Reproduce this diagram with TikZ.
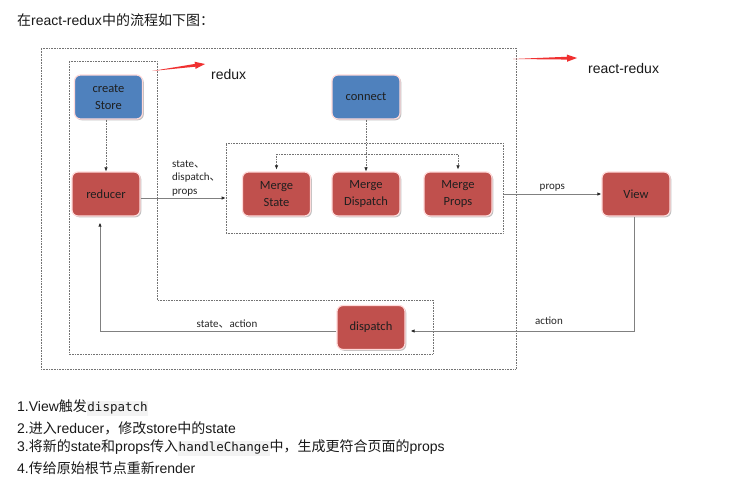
\documentclass[tikz,border=0pt]{standalone}
\usepackage{fontspec}
\setmainfont{Liberation Sans}
\newfontfamily\cjk{Noto Sans CJK SC}
\newfontfamily\calfont{Carlito}
\newfontfamily\codefont{DejaVu Sans Mono}
\usetikzlibrary{shadows,arrows.meta,calc}
\definecolor{nodeblue}{HTML}{4F81BD}
\definecolor{nodered}{HTML}{C0504D}
\definecolor{codebg}{HTML}{F3F3F3}
\definecolor{arrred}{HTML}{F03030}
\newcommand\mycode[1]{{\setlength{\fboxsep}{0.5pt}\colorbox{codebg}{\codefont\fontsize{12.5}{14}\selectfont\strut #1}}}
\begin{document}
\begin{tikzpicture}[x=1pt,y=-1pt,
  box/.style={rounded corners=6pt, minimum width=68pt, minimum height=44pt, inner sep=0pt,
    draw=white!85!red, line width=1.2pt, align=center, text=black!88,
    font=\calfont\fontsize{12.5}{17.5}\selectfont,
    drop shadow={shadow xshift=1.3pt, shadow yshift=-1.3pt, fill=black!40, opacity=0.6}},
  bluebox/.style={box, fill=nodeblue},
  redbox/.style={box, fill=nodered},
  dotline/.style={densely dotted, draw=black!55, line width=0.6pt},
  dotbox/.style={dotline, inner sep=0pt},
  dotarrow/.style={dotline, -{Latex[length=4pt,width=3.5pt,black!85]}},
  conn/.style={draw=black!50, line width=0.8pt, -{Latex[length=4pt,width=3.5pt,black!85]}},
  lbl/.style={font=\calfont\fontsize{11}{14}\selectfont, text=black!85, inner sep=1pt},
  redfill/.style={fill=arrred},
  bigtxt/.style={font=\fontsize{14}{16}\selectfont, text=black!90, anchor=west, inner sep=0pt}
]
\useasboundingbox (0,0) rectangle (730,491);
\fill[white] (0,0) rectangle (730,491);

% title
\node[bigtxt] (title) at (17,20) {{\cjk 在}react-redux{\cjk 中的流程如下图：}};

% dotted frames
\node[dotbox, minimum width=475pt, minimum height=321pt] (rrbox) at (278.5,208.5) {};
\draw[dotline] (69,61) -- (157,61) -- (157,300) -- (433,300) -- (433,354) -- (69,354) -- cycle;
\node[dotbox, minimum width=277pt, minimum height=90pt] (mergebox) at (364.5,188) {};

% nodes
\node[bluebox] (store) at (108.5,97) {create\\Store};
\node[bluebox] (connect) at (366,97) {connect};
\node[redbox] (reducer) at (106,194) {reducer};
\node[redbox] (mstate) at (276.5,194) {Merge\\State};
\node[redbox] (mdisp) at (366,194) {Merge\\Dispatch};
\node[redbox] (mprops) at (458,194) {Merge\\Props};
\node[redbox] (view) at (636,194) {View};
\node[redbox] (dispatch) at (371,327.5) {dispatch};

% red tapered arrows and labels
\coordinate (r1a) at (152,71);
\coordinate (r1b) at (205,64);
\coordinate (r2a) at (513,59);
\coordinate (r2b) at (577,58);
\coordinate (h1) at ($(r1b)!10pt!(r1a)$);
\coordinate (h2) at ($(r2b)!10pt!(r2a)$);
\fill[redfill] (r1a) -- ($(h1)!1.4pt!90:(r1b)$) -- ($(h1)!3.6pt!90:(r1b)$) -- (r1b)
  -- ($(h1)!3.6pt!-90:(r1b)$) -- ($(h1)!1.4pt!-90:(r1b)$) -- cycle;
\fill[redfill] (r2a) -- ($(h2)!1.4pt!90:(r2b)$) -- ($(h2)!3.6pt!90:(r2b)$) -- (r2b)
  -- ($(h2)!3.6pt!-90:(r2b)$) -- ($(h2)!1.4pt!-90:(r2b)$) -- cycle;
\node[bigtxt] (reduxlbl) at (211,74) {redux};
\node[bigtxt] (rrlbl) at (588,68) {react-redux};

% dotted connectors
\draw[dotarrow] (reducer.north |- store.south) -- (reducer.north);
\coordinate (cbranch) at (366,154);
\draw[dotline] (connect.south) -- (cbranch);
\draw[dotarrow] (cbranch) -- (mdisp.north);
\draw[dotarrow] (cbranch) -| ([yshift=2pt]mstate.north);
\draw[dotarrow] (cbranch) -| ([yshift=2pt]mprops.north);

% solid connectors
\draw[conn] ([yshift=-4pt]reducer.east) -- ([yshift=-4pt]reducer.east -| mergebox.west);
\node[lbl, anchor=west, align=left, font=\calfont\fontsize{11}{13.5}\selectfont] (lbl1) at (171,178) {state{\cjk 、}\\dispatch{\cjk 、}\\props};
\draw[conn] (mergebox.east |- view.west) -- node[lbl, above=1pt] (lbl2) {props} (view.west);
\coordinate (vcorner) at (634,331);
\draw[conn, shorten >=5pt] (view.south -| vcorner) -- (vcorner) -- (vcorner -| dispatch.east);
\node[lbl] (lbl3) at (549,321) {action};
\coordinate (dcorner) at (100,331);
\draw[conn, shorten >=6pt] (dispatch.west |- dcorner) -- (dcorner) -- (dcorner |- reducer.south);
\node[lbl] (lbl4) at (227,324) {state{\cjk 、}action};

% bottom text
\node[bigtxt] (t1) at (17,408) {1.View{\cjk 触发}\mycode{dispatch}};
\node[bigtxt] (t2) at (17,428) {2.{\cjk 进入}reducer{\cjk ，修改}store{\cjk 中的}state};
\node[bigtxt] (t3) at (17,448) {3.{\cjk 将新的}state{\cjk 和}props{\cjk 传入}\mycode{handleChange}{\cjk 中，生成更符合页面的}props};
\node[bigtxt] (t4) at (17,468) {4.{\cjk 传给原始根节点重新}render};
\end{tikzpicture}
\end{document}
